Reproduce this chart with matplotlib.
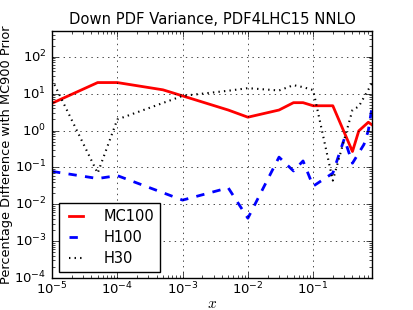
import matplotlib
matplotlib.use("Agg")
import matplotlib.pyplot as plt

# x grid and percentage differences
X_MC100 = [1e-5, 5e-5, 1e-4, 5e-4, 1e-3, 5e-3, 1e-2, 3e-2, 5e-2, 7e-2, 0.1, 0.2, 0.4, 0.5, 0.7, 0.8]
MC100 = [5.5, 20.0, 20.0, 12.7, 8.7, 3.6, 2.3, 3.6, 5.7, 5.7, 4.7, 4.7, 0.27, 0.98, 1.68, 1.42]

X_H100 = [1e-5, 5e-5, 1e-4, 1e-3, 5e-3, 1e-2, 3e-2, 5e-2, 7e-2, 0.1, 0.2, 0.3, 0.4, 0.6, 0.7, 0.8]
H100 = [0.078, 0.05, 0.06, 0.013, 0.028, 0.0042, 0.19, 0.08, 0.15, 0.031, 0.07, 0.6, 0.13, 0.42, 1.0, 4.5]

X_H30 = [1e-5, 5e-5, 1e-4, 1e-3, 5e-3, 1e-2, 3e-2, 5e-2, 7e-2, 0.1, 0.2, 0.4, 0.5, 0.8]
H30 = [24.0, 0.07, 2.0, 8.7, 12.0, 14.1, 12.2, 17.0, 15.0, 12.5, 0.044, 3.6, 4.5, 19.5]

plt.style.use("classic")
plt.rcParams["figure.facecolor"] = "white"
plt.rcParams["savefig.facecolor"] = "white"

fig = plt.figure(figsize=(4.13, 3.10), dpi=100)
ax = fig.add_axes([0.126, 0.103, 0.775, 0.797])

ax.plot(X_MC100, MC100, "r-", lw=2, label="MC100")
ax.plot(X_H100, H100, "b--", lw=2, label="H100")
ax.plot(X_H30, H30, "k:", lw=1.5, label="H30")

ax.set_xscale("log")
ax.set_yscale("log")
ax.set_xlim(1e-5, 0.8)
ax.set_ylim(1e-4, 500)
ax.grid(True)

ax.set_title("Down PDF Variance, PDF4LHC15 NNLO", fontsize=10.6)
ax.set_xlabel(r"$x$", fontsize=11, labelpad=-1)
ax.set_ylabel("Percentage Difference with MC900 Prior", fontsize=9.3, labelpad=1)
ax.tick_params(labelsize=9.5)
ax.tick_params(axis="x", pad=2)

ax.legend(loc="lower left", fontsize=10.5, handlelength=1.6,
          handletextpad=1.1, labelspacing=0.4, borderaxespad=0.45)

fig.savefig("out.png", dpi=100)
